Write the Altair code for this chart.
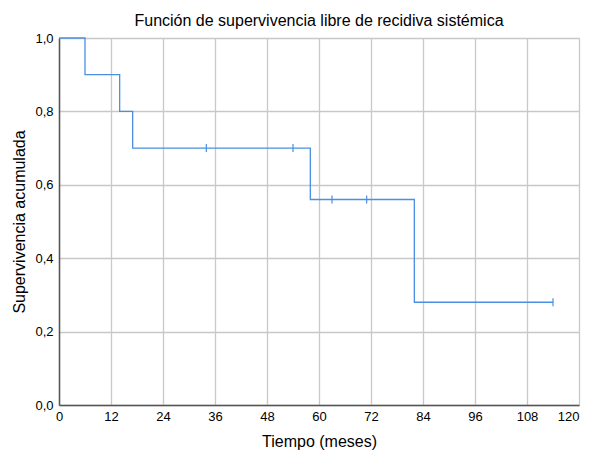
import altair as alt
import pandas as pd

# Kaplan-Meier step curve
times = [0, 6, 14, 17, 58, 82, 114]
survival = [1.0, 0.9, 0.8, 0.7, 0.56, 0.28, 0.28]

# censored observations
cens_times = [34, 54, 63, 71, 114]
cens_surv = [0.7, 0.7, 0.56, 0.56, 0.28]

x_ticks = [0, 12, 24, 36, 48, 60, 72, 84, 96, 108, 120]
y_ticks = [0.0, 0.2, 0.4, 0.6, 0.8, 1.0]

FONT = "Liberation Sans"
BLUE = "#4a8fe2"

df_line = pd.DataFrame({"t": times, "s": survival})
df_cens = pd.DataFrame({"t": cens_times, "s": cens_surv})

x_scale = alt.Scale(domain=[0, 120], nice=False, zero=False)
y_scale = alt.Scale(domain=[0, 1], nice=False)

x_axis = alt.Axis(values=x_ticks, title="Tiempo (meses)", ticks=False,
                  labelPadding=5, titlePadding=10, labelFlush=False,
                  labelAlign={"condition": {"test": "datum.value == 120", "value": "right"},
                              "value": "center"})
y_axis = alt.Axis(values=y_ticks, title="Supervivencia acumulada", ticks=False,
                  labelPadding=6, titlePadding=7,
                  labelExpr="replace(format(datum.value, '.1f'), '.', ',')")

line = alt.Chart(df_line).mark_line(interpolate="step-after", color=BLUE,
                                    strokeWidth=1.3).encode(
    x=alt.X("t:Q", scale=x_scale, axis=x_axis),
    y=alt.Y("s:Q", scale=y_scale, axis=y_axis),
)

cens = alt.Chart(df_cens).mark_tick(orient="vertical", color=BLUE, size=8,
                                    thickness=1.2, opacity=1).encode(
    x=alt.X("t:Q", scale=x_scale),
    y=alt.Y("s:Q", scale=y_scale),
)

chart = alt.layer(line, cens).properties(
    width=520,
    height=367,
    title=alt.TitleParams("Función de supervivencia libre de recidiva sistémica",
                          font=FONT, fontSize=16, fontWeight="normal",
                          color="black", anchor="middle", offset=3),
    autosize=alt.AutoSizeParams(type="none"),
    padding={"left": 51, "top": 30, "right": 2, "bottom": 45},
).configure_view(
    stroke=None
).configure_axis(
    labelFont=FONT, labelFontSize=13, labelColor="black",
    titleFont=FONT, titleFontSize=16, titleFontWeight="normal", titleColor="black",
    gridColor="#c8c8c8", gridWidth=1.3, gridOpacity=1,
    domainColor="#555555", domainWidth=1.5,
)

chart.save("out.html", embed_options={"renderer": "svg", "actions": False})
